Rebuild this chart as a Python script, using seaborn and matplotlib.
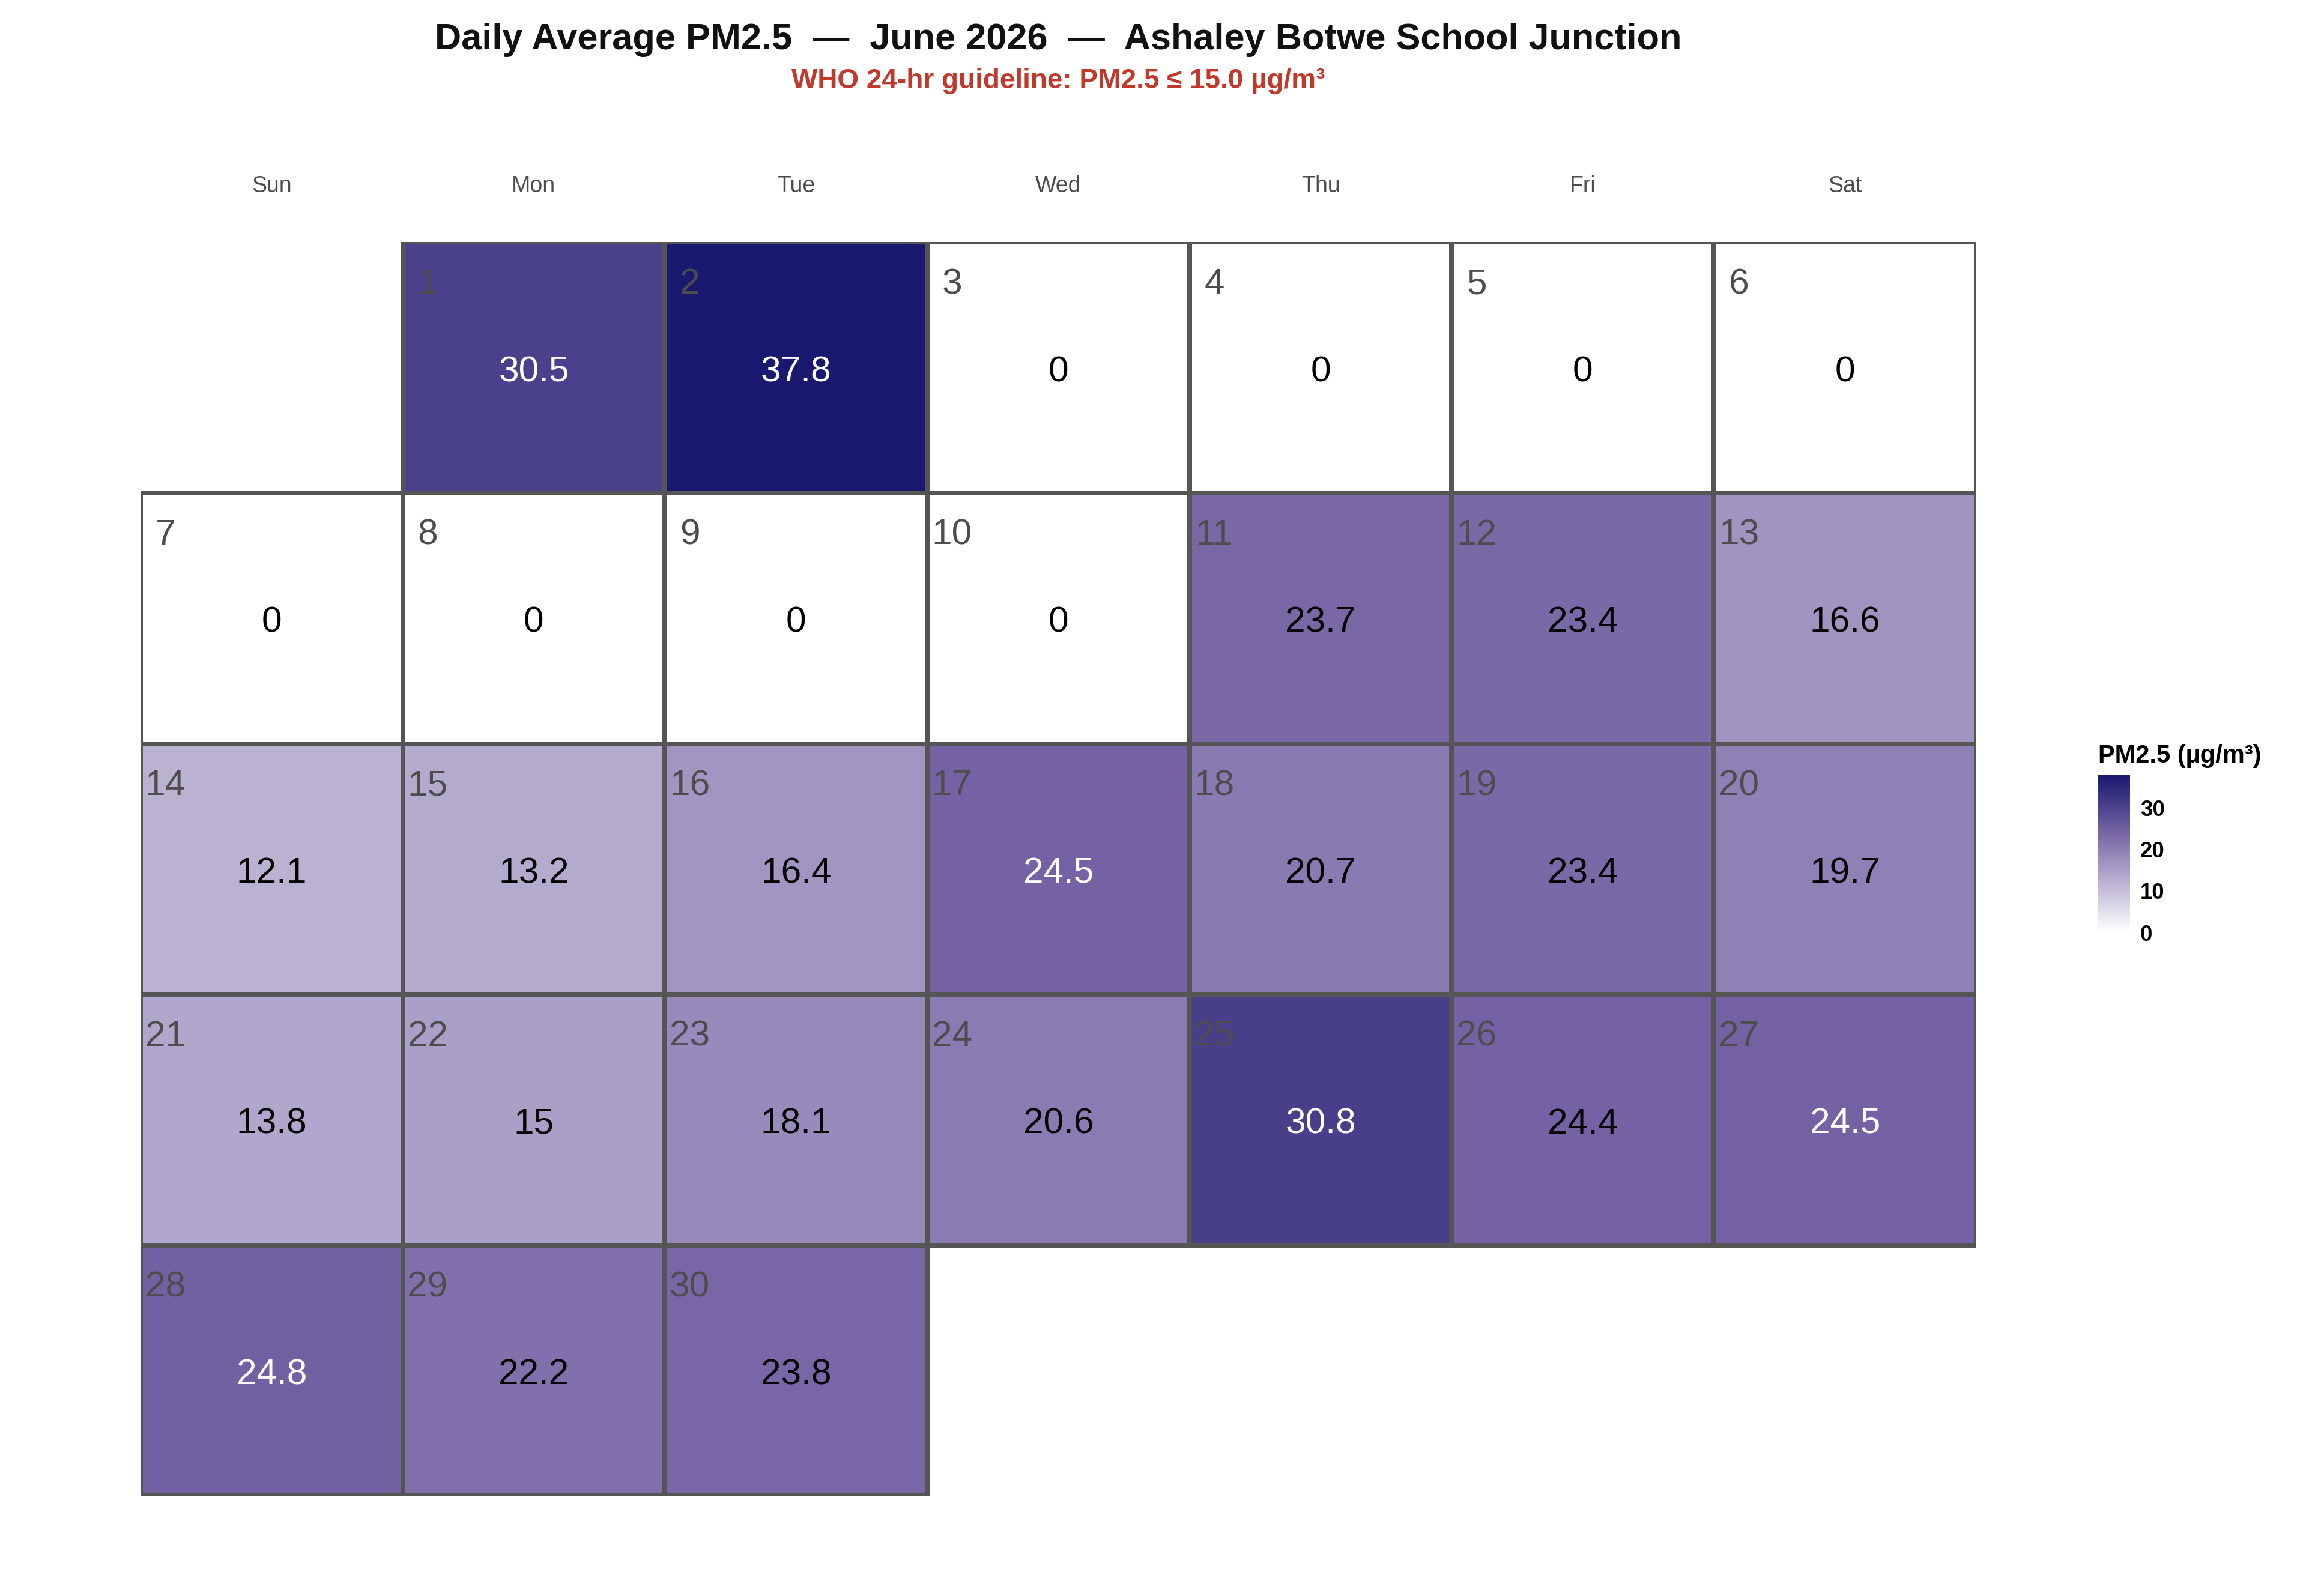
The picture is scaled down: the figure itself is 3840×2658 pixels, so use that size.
import numpy as np
import pandas as pd
import matplotlib
matplotlib.use("Agg")
import matplotlib.pyplot as plt
import seaborn as sns
from matplotlib.colors import LinearSegmentedColormap, to_rgba

# June 2026, daily mean PM2.5 (µg/m³)
days = list(range(1, 31))
pm25 = [30.5, 37.8, 0, 0, 0, 0, 0, 0, 0, 0,
        23.7, 23.4, 16.6, 12.1, 13.2, 16.4, 24.5, 20.7, 23.4, 19.7,
        13.8, 15, 18.1, 20.6, 30.8, 24.4, 24.5, 24.8, 22.2, 23.8]
weekdays = ["Sun", "Mon", "Tue", "Wed", "Thu", "Fri", "Sat"]
first_weekday = 1  # 1 June 2026 is a Monday
cbar_ticks = [0, 10, 20, 30]

title = "Daily Average PM2.5  \u2014  June 2026  \u2014  Ashaley Botwe School Junction"
subtitle = "WHO 24-hr guideline: PM2.5 \u2264 15.0 \u00b5g/m\u00b3"

sns.set_theme(style="white")
plt.rcParams["font.family"] = ["Liberation Sans", "DejaVu Sans"]

df = pd.DataFrame({"day": days, "pm25": pm25})
pos = df["day"] - 1 + first_weekday
df["week"] = pos // 7
df["wday"] = pos % 7
grid = df.pivot(index="week", columns="wday", values="pm25").reindex(columns=range(7))
daygrid = df.pivot(index="week", columns="wday", values="day").reindex(columns=range(7))

cmap = LinearSegmentedColormap.from_list(
    "pm", [(0, "#ffffff"), (0.63, "#7866a6"), (1, "#191970")])
line_col = "#555555"

fig = plt.figure(figsize=(12.8, 8.86), dpi=300)
ax = fig.add_axes([0.0609, 0.0628, 0.7961, 0.7854])
cax = fig.add_axes([0.9099, 0.4157, 0.0138, 0.0986])

sns.heatmap(grid, ax=ax, cbar_ax=cax, cmap=cmap, vmin=0, vmax=max(pm25),
            mask=grid.isna(), linewidths=1.8, linecolor=line_col,
            cbar_kws={"ticks": cbar_ticks})

# no borders around the empty days
mesh = ax.collections[0]
valid = grid.notna().to_numpy().ravel()
mesh.set_edgecolors([to_rgba(line_col) if ok else (0, 0, 0, 0) for ok in valid])

for (w, d), v in grid.stack().items():
    n = int(daygrid.loc[w, d])
    ax.text(d + 0.5, w + 0.518, f"{v:g}", ha="center", va="center", fontsize=14.5,
            color="white" if v >= 24.5 else "black")
    ax.text(d + 0.095, w + 0.168, str(n), ha="center", va="center", fontsize=14.5,
            color="#4d4d4d")

ax.xaxis.tick_top()
ax.set_xticks(np.arange(7) + 0.5)
ax.set_xticklabels(weekdays, fontsize=9, color="#4d4d4d")
ax.tick_params(axis="x", length=0, pad=18)
ax.set_yticks([])
ax.set_xlabel("")
ax.set_ylabel("")

cb = mesh.colorbar
cb.outline.set_visible(False)
cax.tick_params(direction="in", colors="white", length=2.8, width=0.6,
                left=True, right=True, labelright=True, labelleft=False, pad=4)
for lab in cax.get_yticklabels():
    lab.set_color("black")
    lab.set_fontweight("bold")
    lab.set_fontsize(8.8)
fig.text(0.9099, 0.5222, "PM2.5 (\u00b5g/m\u00b3)", fontsize=10, fontweight="bold",
         ha="left", va="baseline", color="black")

fig.text(0.459, 0.9691, title, fontsize=14.7, fontweight="bold", ha="center",
         va="baseline", color="#111111")
fig.text(0.459, 0.9447, subtitle, fontsize=11, fontweight="bold", ha="center",
         va="baseline", color="#c0392b")

fig.savefig("out.png", dpi=300, facecolor="white")
